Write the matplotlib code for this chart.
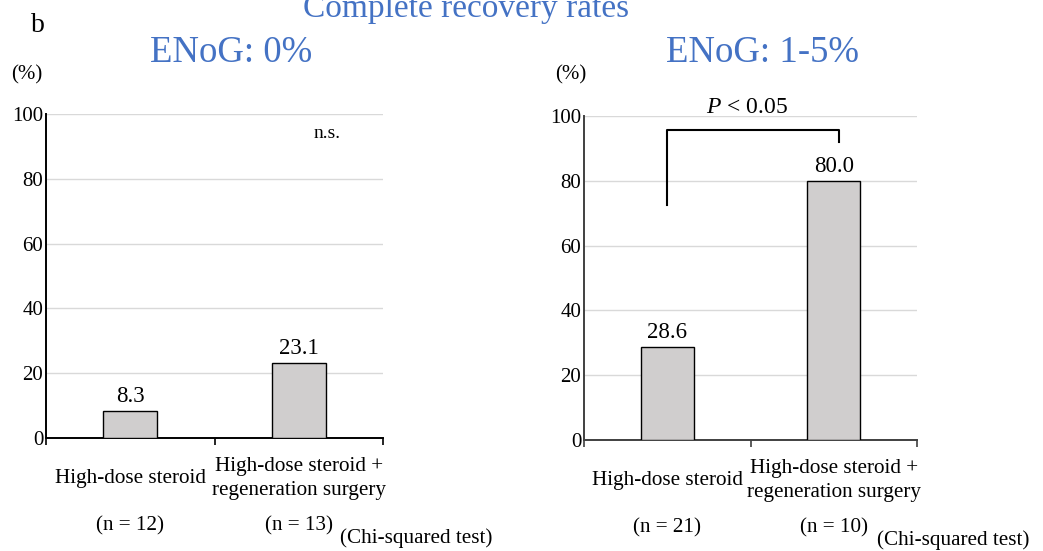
import matplotlib

matplotlib.use("Agg")
from matplotlib import pyplot as plt
from matplotlib import transforms

plt.rcParams["font.family"] = ["Liberation Serif", "DejaVu Serif"]
plt.rcParams["mathtext.fontset"] = "custom"
plt.rcParams["mathtext.it"] = "Liberation Serif:italic"
plt.rcParams["mathtext.rm"] = "Liberation Serif"

groups = ["High-dose steroid", "High-dose steroid +\nregeneration surgery"]
enog0_rates = [8.3, 23.1]
enog0_n = [12, 13]
enog15_rates = [28.6, 80.0]
enog15_n = [21, 10]
yticks = [0, 20, 40, 60, 80, 100]

BLUE = "#4472C4"
BAR = "#D0CECE"
W, H = 1043, 551


def px_axes(x0, y0, x1, y1):
    # pixel box (top-left origin) -> figure fraction rect
    return [x0 / W, 1 - y1 / H, (x1 - x0) / W, (y1 - y0) / H]


def draw_panel(ax, rates, ns, spine_color, chi_x):
    x = list(range(len(rates)))
    ax.bar(x, rates, width=0.32, color=BAR, edgecolor="black", linewidth=1.0, zorder=3)
    for xi, v in zip(x, rates):
        ax.annotate(f"{v:.1f}", (xi, v), xytext=(0, 3), textcoords="offset points",
                    ha="center", va="bottom", fontsize=16.5)
    ax.set_xlim(-0.5, len(rates) - 0.5)
    ax.set_ylim(0, 100)
    ax.set_yticks(yticks)
    ax.yaxis.grid(True, color="#D9D9D9", linewidth=1.0, zorder=0)
    ax.set_axisbelow(True)
    ax.tick_params(axis="y", length=0, pad=2, labelsize=15)
    ax.set_xticks([i - 0.5 for i in range(len(rates) + 1)])
    ax.set_xticklabels([])
    ax.tick_params(axis="x", direction="out", length=5, width=1.2, color=spine_color)
    for s in ("top", "right"):
        ax.spines[s].set_visible(False)
    for s in ("left", "bottom"):
        ax.spines[s].set_color(spine_color)
        ax.spines[s].set_linewidth(1.4)
    ax.spines["left"].set_zorder(4)
    trans = transforms.blended_transform_factory(ax.transData, ax.transAxes)
    for xi, g, n in zip(x, groups, ns):
        ax.text(xi, -0.125, g, transform=trans, ha="center", va="center",
                fontsize=15.2, linespacing=1.3)
        ax.text(xi, -0.27, f"(n = {n})", transform=trans, ha="center", va="center",
                fontsize=15.2)
    ax.text(chi_x, -0.31, "(Chi-squared test)", transform=ax.transAxes,
            ha="left", va="center", fontsize=15.2)


fig = plt.figure(figsize=(W / 100, H / 100), dpi=100)
ax1 = fig.add_axes(px_axes(46, 114, 383, 438))
ax2 = fig.add_axes(px_axes(584, 116, 917, 440))

draw_panel(ax1, enog0_rates, enog0_n, "black", 0.872)
draw_panel(ax2, enog15_rates, enog15_n, "#404040", 0.88)

ax1.text(1.17, 94, "n.s.", ha="center", va="center", fontsize=14)

# significance bracket on the right panel
ax2.plot([0, 0, 1.03, 1.03], [72.5, 95.7, 95.7, 92], color="black", linewidth=1.5,
         clip_on=False, zorder=5)
ax2.text(0.48, 102.5, r"$P$ < 0.05", ha="center", va="center", fontsize=17)

fig.text(466 / W, 1 - 17 / H, "Complete recovery rates", color=BLUE, fontsize=24,
         ha="center", va="baseline")
fig.text(231 / W, 1 - 62 / H, "ENoG: 0%", color=BLUE, fontsize=26.5,
         ha="center", va="baseline")
fig.text(762 / W, 1 - 62 / H, "ENoG: 1-5%", color=BLUE, fontsize=26.5,
         ha="center", va="baseline")
fig.text(38 / W, 1 - 25 / H, "b", fontsize=20, ha="center", va="center")
fig.text(27 / W, 1 - 75 / H, "(%)", fontsize=15, ha="center", va="center")
fig.text(571 / W, 1 - 75 / H, "(%)", fontsize=15, ha="center", va="center")

fig.savefig("out.png", dpi=100)
plt.close(fig)
